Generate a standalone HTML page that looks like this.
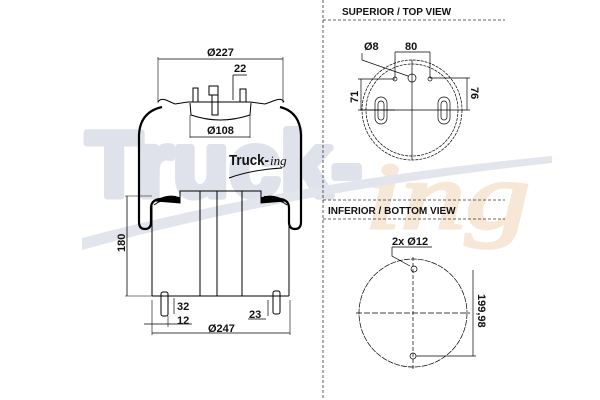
<!DOCTYPE html>
<html><head><meta charset="utf-8"><style>
html,body{margin:0;padding:0;background:#fff;width:600px;height:400px;overflow:hidden}
svg{display:block}
text{font-family:"Liberation Sans",sans-serif;font-weight:bold;fill:#111}
</style></head><body>
<svg width="600" height="400" viewBox="0 0 600 400" xmlns="http://www.w3.org/2000/svg">
<!-- watermark -->
<text x="86" y="196" style="font-size:92px;fill:#dfe2ea;stroke:#dfe2ea;stroke-width:7;stroke-linejoin:round;font-family:'Liberation Sans',sans-serif;font-weight:bold" textLength="276" lengthAdjust="spacingAndGlyphs">Truck-</text>
<text x="365" y="228" style="font-size:95px;fill:#f6e7d7;stroke:#f6e7d7;stroke-width:3;font-style:italic;font-weight:normal;font-family:'Liberation Serif',serif" textLength="165" lengthAdjust="spacingAndGlyphs">ing</text>
<path d="M82 238 Q300 180 552 156 L552 163 Q300 190 82 250 Z" fill="#e3e5ec"/>

<g stroke="#000" fill="none" stroke-width="1">
<line x1="158" y1="59" x2="283" y2="59" stroke-width="0.8"/>
<line x1="158" y1="57" x2="158" y2="103" stroke-width="0.6"/>
<line x1="283" y1="57" x2="283" y2="103" stroke-width="0.6"/>
<line x1="233" y1="75" x2="247" y2="75" stroke-width="0.8"/>
<line x1="233" y1="75" x2="233" y2="100" stroke-width="0.8"/>
<path d="M158 102 Q160 98 166 100 L175 104 L188 102 L250 102 L265 104 L276 100 Q282 98 284 102"/>
<rect x="193" y="88" width="5" height="14"/>
<rect x="209" y="86" width="9" height="9"/>
<rect x="212" y="95" width="6" height="20"/>
<rect x="240" y="89" width="6" height="13"/>
<path d="M190 103 L191 115 Q220 125 250 115 L251 103"/>
<line x1="190" y1="115" x2="190" y2="138" stroke-width="0.6"/>
<line x1="250" y1="115" x2="250" y2="138" stroke-width="0.6"/>
<line x1="190" y1="137" x2="250" y2="137" stroke-width="0.8"/>
<path d="M162 107 Q140 112 139 135 L139 222 Q139 229 145 229 Q151 229 151 222 L151 208 Q151 200 160 199 L176 197" stroke-width="2.2"/>
<path d="M280 107 Q300 112 301 135 L301 222 Q301 229 295 229 Q289 229 289 222 L289 208 Q289 200 280 199 L264 197" stroke-width="2.2"/>
<path d="M154 205 Q165 196 180 202 L180 191 L261 191 L261 202 Q276 196 287 205" stroke-width="1"/>
<path d="M156 201 Q168 193 180 198 L180 203 Z" fill="#000"/>
<path d="M285 201 Q273 193 261 198 L261 203 Z" fill="#000"/>
<line x1="152" y1="205" x2="152" y2="296"/>
<line x1="289" y1="205" x2="289" y2="296"/>
<line x1="152" y1="296" x2="289" y2="296"/>
<line x1="200" y1="191" x2="200" y2="296"/>
<line x1="217" y1="191" x2="217" y2="296"/>
<line x1="242" y1="191" x2="242" y2="296"/>
<line x1="127" y1="196" x2="127" y2="296" stroke-width="0.8"/>
<line x1="125" y1="196" x2="152" y2="196" stroke-width="0.6"/>
<line x1="125" y1="296" x2="152" y2="296" stroke-width="0.6"/>
<rect x="161" y="292" width="7" height="24" rx="2"/>
<rect x="273" y="291" width="7" height="23" rx="2"/>
<line x1="174" y1="298" x2="174" y2="314" stroke-width="0.7"/>
<line x1="168" y1="316" x2="168" y2="327" stroke-width="0.6"/>
<line x1="144" y1="324" x2="192" y2="324" stroke-width="0.7"/>
<line x1="152" y1="300" x2="152" y2="335" stroke-width="0.6"/>
<line x1="290" y1="300" x2="290" y2="335" stroke-width="0.6"/>
<line x1="152" y1="333" x2="290" y2="333" stroke-width="0.8"/>
<line x1="268" y1="300" x2="268" y2="316" stroke-width="0.7"/>
<line x1="248" y1="319" x2="266" y2="319" stroke-width="0.7"/>
<path d="M229 178 Q250 170 282 168" stroke-width="1"/>
</g>
<text x="207" y="56" font-size="11">Ø227</text>
<text x="234" y="72" font-size="11">22</text>
<text x="207" y="134" font-size="11">Ø108</text>
<text x="229" y="165" font-size="15" textLength="40" lengthAdjust="spacingAndGlyphs">Truck-</text>
<text x="270" y="165" font-size="13" style="font-style:italic;font-weight:normal;font-family:'Liberation Serif',serif">ing</text>
<text transform="translate(125,252) rotate(-90)" font-size="11">180</text>
<text x="177" y="310" font-size="11">32</text>
<text x="177" y="324" font-size="11">12</text>
<text x="208" y="332" font-size="11">Ø247</text>
<text x="249" y="318" font-size="11">23</text>

<g stroke="#333" stroke-width="0.8" stroke-dasharray="3,2" fill="none">
<line x1="323" y1="0" x2="323" y2="400"/>
<line x1="323" y1="20" x2="505" y2="20"/>
<line x1="323" y1="200" x2="505" y2="200"/>
<line x1="323" y1="219" x2="505" y2="219"/>
</g>
<text x="342" y="15" font-size="10">SUPERIOR / TOP VIEW</text>
<text x="328" y="214" font-size="10">INFERIOR / BOTTOM VIEW</text>
<g stroke="#000" fill="none" stroke-width="0.7">
<circle cx="412" cy="110" r="50" stroke-dasharray="3,1"/>
<circle cx="412" cy="110" r="46" stroke-dasharray="3,1"/>
<line x1="412" y1="60" x2="412" y2="160"/>
<line x1="360" y1="110" x2="470" y2="110"/>
<rect x="375" y="97" width="12" height="27" rx="6"/>
<rect x="378" y="101" width="6" height="19" rx="3"/>
<rect x="438" y="97" width="12" height="27" rx="6"/>
<rect x="441" y="101" width="6" height="19" rx="3"/>
<circle cx="412" cy="78" r="4"/>
<circle cx="395" cy="79" r="2"/>
<circle cx="430" cy="79" r="2"/>
<line x1="395" y1="52" x2="430" y2="52"/>
<line x1="395" y1="52" x2="395" y2="78"/>
<line x1="430" y1="52" x2="430" y2="78"/>
<path d="M362 53 L362 60 L408 76"/>
<line x1="358" y1="79" x2="395" y2="79"/>
<line x1="358" y1="110" x2="395" y2="110"/>
<line x1="361" y1="79" x2="361" y2="110"/>
<line x1="430" y1="78" x2="470" y2="78"/>
<line x1="467" y1="78" x2="467" y2="110"/>
<circle cx="413" cy="313" r="54" stroke-dasharray="6,1"/>
<line x1="413" y1="257" x2="413" y2="370" stroke-dasharray="4,2"/>
<line x1="356" y1="313" x2="470" y2="313" stroke-dasharray="6,2"/>
<circle cx="414" cy="269" r="3"/>
<circle cx="413" cy="356" r="3"/>
<path d="M392 247 L392 256 L410 266"/>
<line x1="392" y1="247" x2="432" y2="247"/>
<line x1="473" y1="270" x2="473" y2="356"/>
<line x1="416" y1="356" x2="476" y2="356"/>
</g>
<text x="364" y="50" font-size="11">Ø8</text>
<text x="405" y="50" font-size="11">80</text>
<text transform="translate(358,103) rotate(-90)" font-size="11">71</text>
<text transform="translate(471,87) rotate(90)" font-size="11">76</text>
<text x="392" y="245" font-size="11">2x Ø12</text>
<text transform="translate(478,294) rotate(90)" font-size="11">199,98</text>
</svg>
</body></html>
